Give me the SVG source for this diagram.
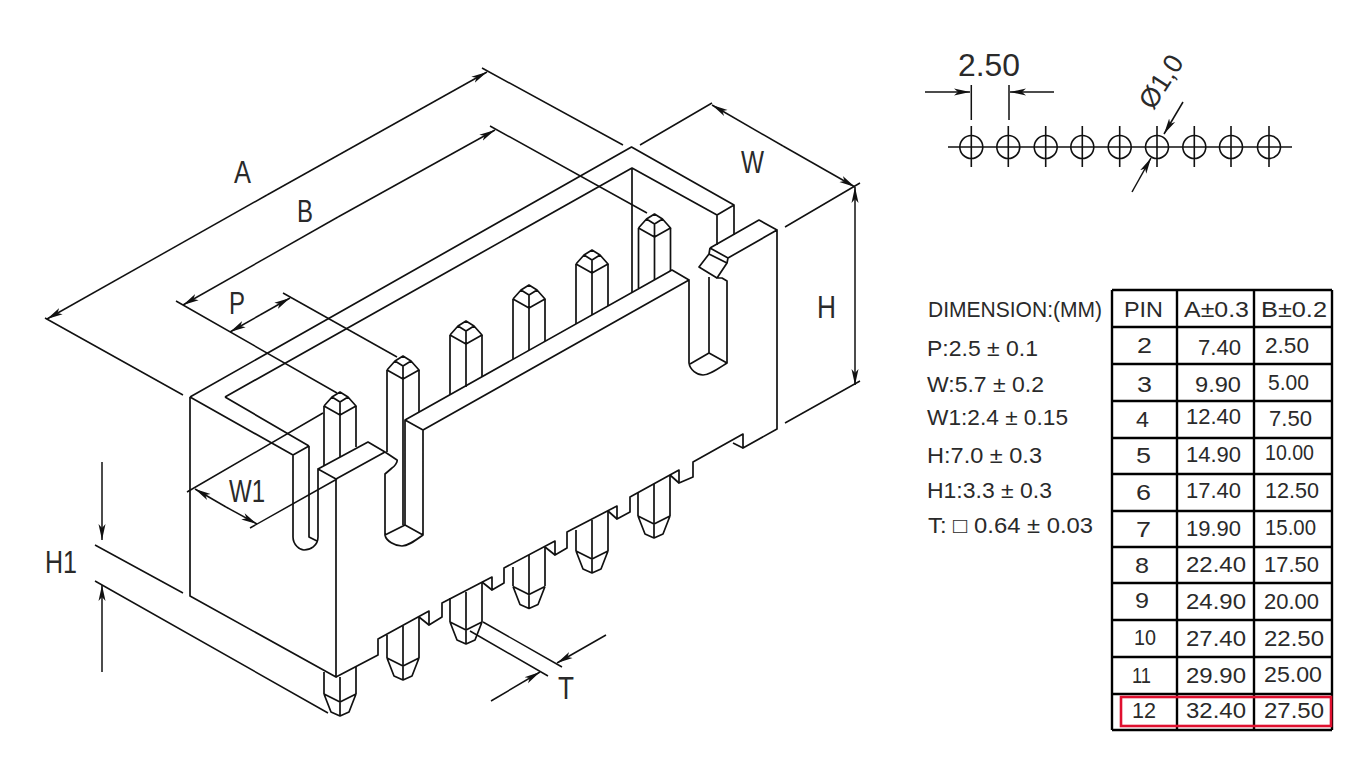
<svg xmlns="http://www.w3.org/2000/svg" width="1366" height="768" viewBox="0 0 1366 768">
<style>
.l{fill:none;stroke:#111;stroke-width:1.7;stroke-linejoin:round;stroke-linecap:butt}
.d{fill:none;stroke:#111;stroke-width:1.5}
.a{marker-end:url(#ah)}
.g{fill:none;stroke:#000;stroke-width:2.4}
text{font-family:"Liberation Sans",Arial,"DejaVu Sans",sans-serif;fill:#2a2a2a}
.big{font-size:31px}
.lab{font-size:22px}
.tb{font-size:22px}
</style>
<defs>
<marker id="ah" markerUnits="userSpaceOnUse" markerWidth="17" markerHeight="9" refX="16" refY="4.500" orient="auto"><path d="M0 1 L16 4.500 L0 8 L4 4.500Z" fill="#111"/></marker>
<path id="head" d="M-16 14L-8 5L0 0L8 5L16 14L0 23L-16 14M-8 5L0 10L8 5M0 10V23"/>
<path id="tip" d="M-16 -22L0 -14L16 -22M-16 -22L-9 -4L0 0L9 -4L16 -22M0 -14V0"/>
</defs>
<rect width="1366" height="768" fill="#fff"/>

<g id="connector-body" class="l">
<path d="M190 397L631.500 147L734 205V235M225 397L632 168L717 215L734 205M717 215V245M632 168V292"/>
<path d="M190 397V596L336 677V479L318 469V537M190 397L293 455L309 446M225 397L309 446M293 455V537C293 545 300 550 304 550C310 550 318 546 318 537M309 446V537L317 541"/>
<path d="M318 469L368 442L385 452L397 460C398 462 394 467 392 468L385 474V535C386 541 395 546 402 546C407 546 412 543 423 535L405 525V420L423 430V535M385 535L405 525"/>
<path d="M336 479L385 452M423 430L689 280V363C690 370 697 375 703 375C709 375 716 370 727 363V281L722 278H717L727 263L728 258L777 230V429L743 448V434L693 462V477L679 483V470L630 497V512L617 519V506L567 532V548L555 555V541L504 568V583L492 590V577L442 603V617L429 625V611L378 639V655L336 677"/>
<path d="M405 420L672 270L689 280M709 277V353L727 363M709 353L690 364"/>
<path d="M710 248L759 220L777 230M710 248L728 258M710 248L709 254L727 263M709 254L699 267L717 278"/>
<path d="M482 582L492 590M545 547L555 555M608 511L617 519M670 475L679 483M733 443L743 448M419 617L429 625"/>
</g>

<g id="pins" class="l">
<use href="#head" x="340" y="392"/><use href="#head" x="403" y="356"/><use href="#head" x="466" y="321"/><use href="#head" x="529" y="285"/><use href="#head" x="592" y="250"/><use href="#head" x="654.500" y="214"/>
<path d="M324 406V466M340 415V457M356 406V447M387 370V452M403 379V525M419 370V412M450 335V395M466 344V387M482 335V377M513 299V359M529 308V350M545 299V341M576 264V324M592 273V315M608 264V306M638.500 228V288M654.500 237V280M670.500 228V271"/>
<use href="#tip" x="340" y="716"/><use href="#tip" x="403" y="680"/><use href="#tip" x="466" y="644"/><use href="#tip" x="529" y="608.500"/><use href="#tip" x="592" y="573"/><use href="#tip" x="654" y="538"/>
<path d="M324 672V694M340 677V702M356 667V694M387 635V658M403 626V666M419 617V658M450 598V622M466 592V630M482 582V622M513 567V586M529 555V594M545 547V586M576 530V551M592 520V559M608 511V551M638 493V516M654 484V524M670 475V516"/>
</g>

<g id="dimensions" class="d">
<path d="M45 318L183 395M482 68L623 145"/>
<path class="a" d="M267 195L47 319"/><path class="a" d="M267 195L487 72"/>
<path d="M176 301L337 393M490 126L647 213"/>
<path class="a" d="M338 217L183 305"/><path class="a" d="M338 217L495 130"/>
<path d="M283 293L397 357"/>
<path class="a" d="M260 315L230 332"/><path class="a" d="M260 315L290 298"/>
<path d="M640 145L712 103M785 227L860 183M785 423L860 381"/>
<path class="a" d="M783 146L712 105"/><path class="a" d="M783 146L855 187"/>
<path class="a" d="M855 286V187"/><path class="a" d="M855 286V385"/>
<path d="M187 492L323 413M250 528L337 479"/>
<path class="a" d="M226 507L195 489"/><path class="a" d="M226 507L257 524"/>
<path class="a" d="M102 462V540"/><path class="a" d="M102 672V585"/>
<path d="M95 545L183 593M95 581L328 713"/>
<path d="M483 622L562 667M470 631L548 676"/>
<path class="a" d="M606 635L557 663"/><path class="a" d="M491 701L540 672"/>
</g>

<g id="dimension-labels">
<text class="big" x="234" y="183" textLength="17" lengthAdjust="spacingAndGlyphs">A</text>
<text class="big" x="297" y="222" textLength="16" lengthAdjust="spacingAndGlyphs">B</text>
<text class="big" x="229" y="314" textLength="16" lengthAdjust="spacingAndGlyphs">P</text>
<text class="big" x="741" y="173" textLength="23" lengthAdjust="spacingAndGlyphs">W</text>
<text class="big" x="817" y="318" textLength="19" lengthAdjust="spacingAndGlyphs">H</text>
<text class="big" x="229" y="502" textLength="36" lengthAdjust="spacingAndGlyphs">W1</text>
<text class="big" x="45" y="573" textLength="32" lengthAdjust="spacingAndGlyphs">H1</text>
<text class="big" x="558" y="699" textLength="16" lengthAdjust="spacingAndGlyphs">T</text>
</g>

<g id="hole-pattern" class="d">
<path d="M948 147H1292M971.300 85V120M1009 85V120"/>
<path class="a" d="M925 92H970"/><path class="a" d="M1054 92H1010"/>
<path class="a" d="M1183 102L1164 134"/><path class="a" d="M1132 192L1151 158"/>
<g stroke-width="1.6">
<circle cx="971.300" cy="147" r="11.500"/><circle cx="1008.300" cy="147" r="11.500"/><circle cx="1045.700" cy="147" r="11.500"/><circle cx="1082.300" cy="147" r="11.500"/><circle cx="1119.700" cy="147" r="11.500"/><circle cx="1157" cy="147" r="11.500"/><circle cx="1194.300" cy="147" r="11.500"/><circle cx="1231" cy="147" r="11.500"/><circle cx="1269" cy="147" r="11.500"/>
<path d="M971.300 126V167M1008.300 126V167M1045.700 126V167M1082.300 126V167M1119.700 126V167M1157 126V167M1194.300 126V167M1231 126V167M1269 126V167"/>
</g>
</g>
<g id="hole-labels">
<text x="958" y="76" font-size="31" textLength="62" lengthAdjust="spacingAndGlyphs">2.50</text>
<text transform="translate(1153 111) rotate(-57)" font-size="27" textLength="58" lengthAdjust="spacingAndGlyphs">Ø1,0</text>
</g>

<g id="spec-list" class="lab">
<text x="928" y="317" textLength="174" lengthAdjust="spacingAndGlyphs">DIMENSION:(MM)</text>
<text x="927" y="356" textLength="111" lengthAdjust="spacingAndGlyphs">P:2.5 ± 0.1</text>
<text x="927" y="392" textLength="117" lengthAdjust="spacingAndGlyphs">W:5.7 ± 0.2</text>
<text x="927" y="425" textLength="141" lengthAdjust="spacingAndGlyphs">W1:2.4 ± 0.15</text>
<text x="927" y="463" textLength="115" lengthAdjust="spacingAndGlyphs">H:7.0 ± 0.3</text>
<text x="927" y="498" textLength="125" lengthAdjust="spacingAndGlyphs">H1:3.3 ± 0.3</text>
<text x="928" y="533" textLength="165" lengthAdjust="spacingAndGlyphs">T: □ 0.64 ± 0.03</text>
</g>

<g id="table">
<path class="g" d="M1112 290V730M1177 290V730M1254 290V730M1332 290V730M1112 290H1332M1112 327H1332M1112 364H1332M1112 401H1332M1112 438H1332M1112 474H1332M1112 511H1332M1112 547H1332M1112 583H1332M1112 620H1332M1112 657H1332M1112 694H1332M1112 730H1332"/>
<g class="tb">
<text x="1124" y="317" textLength="39" lengthAdjust="spacingAndGlyphs">PIN</text>
<text x="1184" y="317" textLength="65" lengthAdjust="spacingAndGlyphs">A±0.3</text>
<text x="1261" y="317" textLength="66" lengthAdjust="spacingAndGlyphs">B±0.2</text>
<text x="1137" y="353" textLength="15" lengthAdjust="spacingAndGlyphs">2</text><text x="1198" y="355" textLength="43" lengthAdjust="spacingAndGlyphs">7.40</text><text x="1265" y="353" textLength="44" lengthAdjust="spacingAndGlyphs">2.50</text>
<text x="1137" y="392" textLength="15" lengthAdjust="spacingAndGlyphs">3</text><text x="1195" y="392" textLength="46" lengthAdjust="spacingAndGlyphs">9.90</text><text x="1268" y="390" textLength="41" lengthAdjust="spacingAndGlyphs">5.00</text>
<text x="1136" y="427" textLength="13" lengthAdjust="spacingAndGlyphs">4</text><text x="1186" y="424" textLength="55" lengthAdjust="spacingAndGlyphs">12.40</text><text x="1269" y="426" textLength="43" lengthAdjust="spacingAndGlyphs">7.50</text>
<text x="1136" y="463" textLength="15" lengthAdjust="spacingAndGlyphs">5</text><text x="1186" y="462" textLength="55" lengthAdjust="spacingAndGlyphs">14.90</text><text x="1265" y="460" textLength="49" lengthAdjust="spacingAndGlyphs">10.00</text>
<text x="1136" y="500" textLength="15" lengthAdjust="spacingAndGlyphs">6</text><text x="1186" y="498" textLength="55" lengthAdjust="spacingAndGlyphs">17.40</text><text x="1265" y="498" textLength="54" lengthAdjust="spacingAndGlyphs">12.50</text>
<text x="1136" y="537" textLength="15" lengthAdjust="spacingAndGlyphs">7</text><text x="1186" y="536" textLength="55" lengthAdjust="spacingAndGlyphs">19.90</text><text x="1265" y="535" textLength="51" lengthAdjust="spacingAndGlyphs">15.00</text>
<text x="1135" y="573" textLength="14" lengthAdjust="spacingAndGlyphs">8</text><text x="1186" y="572" textLength="60" lengthAdjust="spacingAndGlyphs">22.40</text><text x="1264" y="572" textLength="55" lengthAdjust="spacingAndGlyphs">17.50</text>
<text x="1135" y="608" textLength="14" lengthAdjust="spacingAndGlyphs">9</text><text x="1186" y="609" textLength="60" lengthAdjust="spacingAndGlyphs">24.90</text><text x="1264" y="609" textLength="55" lengthAdjust="spacingAndGlyphs">20.00</text>
<text x="1134" y="645" textLength="22" lengthAdjust="spacingAndGlyphs">10</text><text x="1186" y="646" textLength="60" lengthAdjust="spacingAndGlyphs">27.40</text><text x="1264" y="646" textLength="60" lengthAdjust="spacingAndGlyphs">22.50</text>
<text x="1132" y="683" textLength="19" lengthAdjust="spacingAndGlyphs">11</text><text x="1186" y="683" textLength="60" lengthAdjust="spacingAndGlyphs">29.90</text><text x="1264" y="682" textLength="58" lengthAdjust="spacingAndGlyphs">25.00</text>
<text x="1132" y="718" textLength="24" lengthAdjust="spacingAndGlyphs">12</text><text x="1186" y="718" textLength="60" lengthAdjust="spacingAndGlyphs">32.40</text><text x="1264" y="718" textLength="60" lengthAdjust="spacingAndGlyphs">27.50</text>
</g>
<rect x="1121" y="697" width="210" height="29" fill="none" stroke="#e0102f" stroke-width="2.600"/>
</g>
</svg>
